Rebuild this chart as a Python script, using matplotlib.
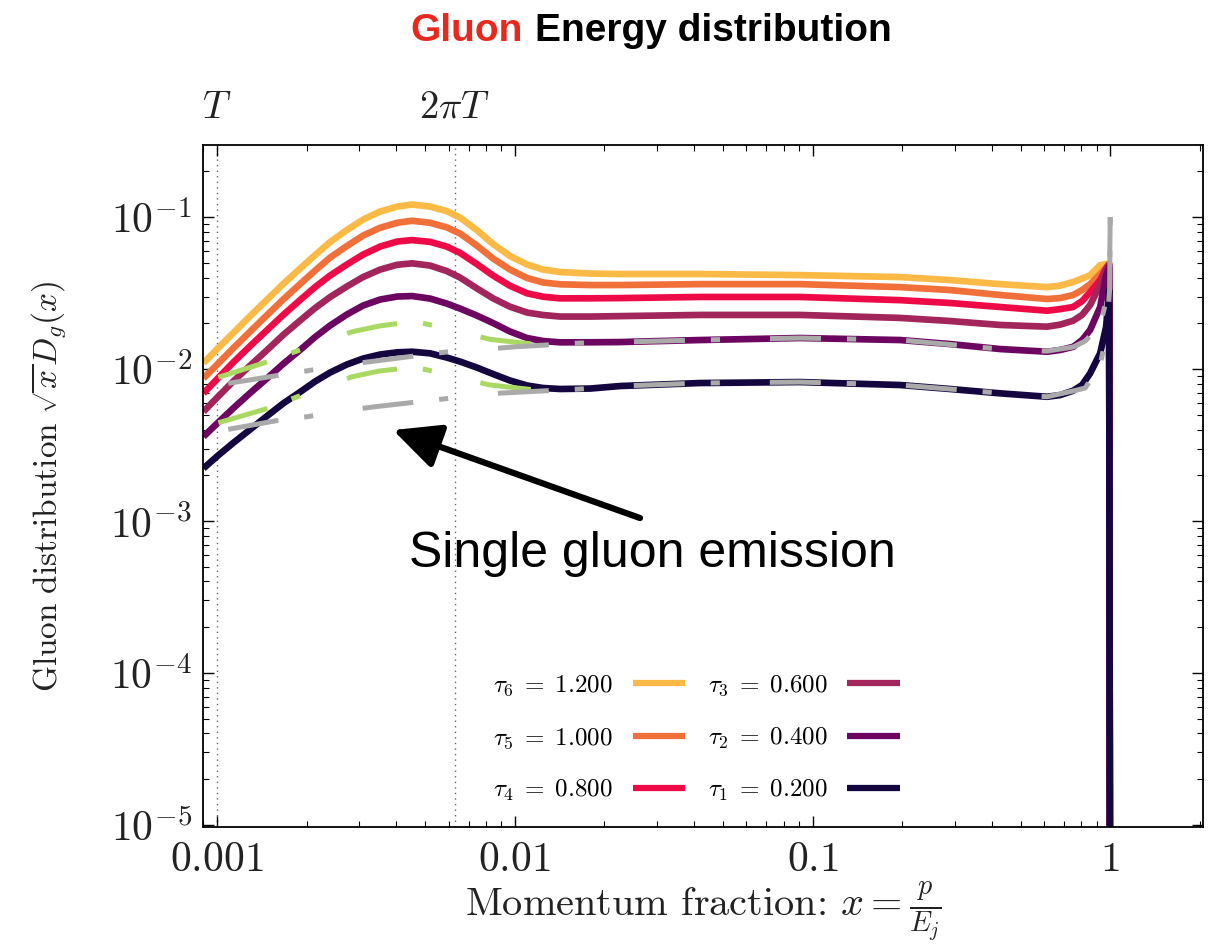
import numpy as np
import matplotlib
matplotlib.use('Agg')
import matplotlib.pyplot as plt
from matplotlib.ticker import FixedLocator, FixedFormatter, LogLocator, NullFormatter

plt.rcParams['mathtext.fontset'] = 'cm'
plt.rcParams['lines.scale_dashes'] = False

##############################################################################
# Data
x_grid = [0.0009, 0.001008, 0.001132, 0.001291, 0.001472, 0.001666, 0.0019,
          0.002134, 0.002396, 0.002727, 0.003093, 0.003528, 0.004024, 0.004519,
          0.005193, 0.005909, 0.006549, 0.007455, 0.008455, 0.009643, 0.011,
          0.01247, 0.0142, 0.01791, 0.02258, 0.04193, 0.09085, 0.1968, 0.2899,
          0.4268, 0.6138, 0.6787, 0.7503, 0.8043, 0.8561, 0.9249, 0.9687,
          0.9915, 1.0]

tau6 = [0.01095, 0.01375, 0.01725, 0.02232, 0.02866, 0.03624, 0.04583,
        0.05623, 0.06848, 0.08212, 0.09628, 0.1087, 0.1172, 0.1209, 0.1172,
        0.1095, 0.0992, 0.0821, 0.0664, 0.0554, 0.0487, 0.0451, 0.0435, 0.0425,
        0.0422, 0.0422, 0.0415, 0.0403, 0.0385, 0.0362, 0.0346, 0.0354, 0.0374,
        0.0394, 0.0415, 0.0483, 0.0490, 0.0495, 1e-7]
tau5 = [0.00869, 0.01087, 0.01368, 0.01765, 0.02266, 0.02866, 0.03624,
        0.04446, 0.05414, 0.06444, 0.07556, 0.08502, 0.09172, 0.09454, 0.09172,
        0.08554, 0.07789, 0.06493, 0.05333, 0.0451, 0.0397, 0.0371, 0.0361,
        0.0357, 0.0357, 0.0362, 0.0362, 0.0346, 0.0331, 0.0307, 0.0289, 0.0293,
        0.0307, 0.0331, 0.0362, 0.0422, 0.0462, 0.0490, 1e-7]
tau4 = [0.00692, 0.00873, 0.01104, 0.01417, 0.01805, 0.02266, 0.02844,
        0.03463, 0.04122, 0.04869, 0.05666, 0.06396, 0.0690, 0.07058, 0.06868,
        0.06396, 0.05813, 0.04906, 0.04122, 0.03527, 0.03148, 0.0299, 0.02918,
        0.0292, 0.0293, 0.0298, 0.0298, 0.0284, 0.0272, 0.0256, 0.0242, 0.0248,
        0.0256, 0.0280, 0.0321, 0.0385, 0.0462, 0.0490, 1e-7]
tau3 = [0.00524, 0.00659, 0.00828, 0.01054, 0.01334, 0.01674, 0.02085,
        0.02519, 0.02976, 0.0349, 0.0403, 0.0451, 0.04855, 0.04959, 0.04796,
        0.04413, 0.0400, 0.03396, 0.02918, 0.0257, 0.02353, 0.02266, 0.02215,
        0.02215, 0.0223, 0.0227, 0.0227, 0.0217, 0.0207, 0.0195, 0.0190, 0.0196,
        0.0208, 0.0227, 0.0264, 0.0357, 0.0448, 0.0485, 1e-7]
tau2 = [0.00359, 0.00445, 0.00551, 0.00695, 0.00869, 0.01079, 0.01334,
        0.01624, 0.01933, 0.02283, 0.02617, 0.02866, 0.02999, 0.03022, 0.02909,
        0.02697, 0.0250, 0.02249, 0.02007, 0.01765, 0.01599, 0.01528, 0.01499,
        0.0150, 0.01505, 0.01552, 0.0160, 0.01552, 0.0146, 0.01354, 0.0130,
        0.01334, 0.0140, 0.01552, 0.0181, 0.0256, 0.0415, 0.0470, 1e-7]
tau1 = [0.00222, 0.0027, 0.00326, 0.0040, 0.00491, 0.00593, 0.00706, 0.00828,
        0.00948, 0.01071, 0.01172, 0.01246, 0.01288, 0.0130, 0.01269, 0.0119,
        0.0112, 0.01023, 0.00927, 0.0084, 0.00779, 0.0075, 0.00739, 0.00744,
        0.00773, 0.00809, 0.00821, 0.00785, 0.00739, 0.00692, 0.00657, 0.00674,
        0.0072, 0.00785, 0.00937, 0.0127, 0.0190, 0.0330, 1e-7]

taus = [1.2, 1.0, 0.8, 0.6, 0.4, 0.2]
tau_idx = [6, 5, 4, 3, 2, 1]
colors = ['#FBBA45', '#F1703A', '#EE0A47', '#A2255C', '#6C0661', '#14063F']

# single gluon emission (gray) for tau1 and tau2
x_single = [0.00109, 0.00163, 0.00201, 0.0024, 0.00339, 0.00587, 0.00783,
            0.0101, 0.0166, 0.0226, 0.042, 0.091, 0.197, 0.426, 0.613, 0.75,
            0.824, 0.925, 0.97, 0.995, 1.0]
single_up = [0.00805, 0.00913, 0.00974, 0.01035, 0.01129, 0.01294, 0.01348,
             0.01402, 0.01483, 0.01505, 0.01552, 0.0160, 0.01552, 0.01354,
             0.01313, 0.01396, 0.01528, 0.0195, 0.0284, 0.0483, 0.100]
single_lo = [0.00401, 0.00462, 0.00486, 0.00516, 0.00565, 0.00638, 0.00685,
             0.00703, 0.00739, 0.00773, 0.00809, 0.00821, 0.00785, 0.00695,
             0.00657, 0.00717, 0.0075, 0.01062, 0.01674, 0.0331, 0.100]

# green dashed (small x approximation)
x_green = [0.00101, 0.00148, 0.00186, 0.00284, 0.0035, 0.00422, 0.0048,
           0.00561, 0.00681, 0.00826, 0.01235]
green_up = [0.00882, 0.01117, 0.01317, 0.01759, 0.01918, 0.02016, 0.02016,
            0.01898, 0.01725, 0.01568, 0.01438]
green_lo = [0.00443, 0.00551, 0.00657, 0.00890, 0.00970, 0.01011, 0.0101,
            0.00946, 0.00859, 0.00785, 0.00720]

T_scale = 0.001
xtick_vals = [0.001, 0.01, 0.1, 1]
xtick_labels = ['$0.001$', '$0.01$', '$0.1$', '$1$']
ytick_vals = [1e-5, 1e-4, 1e-3, 1e-2, 1e-1]
ytick_labels = ['$10^{-5}$', '$10^{-4}$', '$10^{-3}$', '$10^{-2}$', '$10^{-1}$']
##############################################################################

fig = plt.figure(figsize=(12.23, 9.49), dpi=100)
ax = fig.add_axes([0.166, 0.1286, 0.8177, 0.7186])
ax.set_xscale('log')
ax.set_yscale('log')
ax.set_xlim(0.000897, 2.05)
ax.set_ylim(0.97e-5, 0.298)

curves = [tau6, tau5, tau4, tau3, tau2, tau1]
for ys, t, i, c in zip(curves, taus, tau_idx, colors):
    ax.plot(x_grid, ys, color=c, lw=4.8, solid_capstyle='butt',
            solid_joinstyle='round',
            label=r'$\tau_{%d}\;=\;%.3f$' % (i, t))

dash = (0, (36.7, 18.7, 6.6, 36.0))
for ys in [green_up, green_lo]:
    ax.plot(x_green, ys, color='#A9D962', lw=3.6, linestyle=dash)
for ys in [single_up, single_lo]:
    ax.plot(x_single, ys, color='#AAAAAA', lw=3.6, linestyle=dash)

# T and 2 pi T markers
for xv, lab in [(T_scale, '$T$'), (2 * np.pi * T_scale, r'$2\pi T$')]:
    ax.axvline(xv, color='#666666', lw=1.0, linestyle=(0, (1, 3)), zorder=0)
    ax.text(xv, 1.056, lab, transform=ax.get_xaxis_transform(),
            ha='center', va='center', fontsize=28, color='#222222')

ax.xaxis.set_major_locator(FixedLocator(xtick_vals))
ax.xaxis.set_major_formatter(FixedFormatter(xtick_labels))
ax.xaxis.set_minor_locator(LogLocator(base=10, subs=np.arange(2, 10)))
ax.xaxis.set_minor_formatter(NullFormatter())
ax.yaxis.set_major_locator(FixedLocator(ytick_vals))
ax.yaxis.set_major_formatter(FixedFormatter(ytick_labels))
ax.yaxis.set_minor_locator(LogLocator(base=10, subs=np.arange(2, 10)))
ax.yaxis.set_minor_formatter(NullFormatter())

ax.tick_params(which='both', direction='in', top=True, right=True,
               labelsize=30, labelcolor='#222222')
ax.tick_params(which='major', length=8, width=1.0, pad=8)
ax.tick_params(which='minor', length=4, width=0.8)
for s in ax.spines.values():
    s.set_linewidth(1.3)

ax.set_xlabel(r'Momentum fraction: $x = \frac{p}{E_j}$', family='cmr10',
              fontsize=29, color='#222222', labelpad=0)
ax.set_ylabel(r'$\mathrm{Gluon\ distribution}\ \sqrt{x}D_g(x)$',
              fontsize=24, color='#222222', labelpad=30)

leg = ax.legend(ncol=2, loc='center', bbox_to_anchor=(0.4935, 0.1305),
                frameon=False, markerfirst=False, fontsize=18,
                handlelength=2.1, handletextpad=0.8, columnspacing=0.9,
                labelspacing=1.1)
for h in leg.legend_handles:
    h.set_linewidth(4.5)

ax.annotate('', xy=(0.190, 0.582), xytext=(0.437, 0.453),
            xycoords='axes fraction', textcoords='axes fraction',
            arrowprops=dict(arrowstyle='-|>,head_length=1.15,head_width=0.55',
                            lw=4.5, color='black', mutation_scale=25,
                            shrinkA=0, shrinkB=0))
ax.text(0.449, 0.400, 'Single gluon emission', transform=ax.transAxes,
        ha='center', va='center', fontsize=36, family='Liberation Sans')

# two-colour title
renderer = fig.canvas.get_renderer()
t1 = fig.text(410 / 1223, 1 - 31 / 949, 'Gluon', color='#E8281C',
              fontsize=28, fontweight='bold', family='Liberation Sans',
              ha='left', va='center')
bb = t1.get_window_extent(renderer)
fig.text(bb.x1 / fig.bbox.width + 0.01, 1 - 31 / 949, 'Energy distribution',
         color='black', fontsize=28, fontweight='bold',
         family='Liberation Sans', ha='left', va='center')

plt.savefig('out.png', dpi=100)
